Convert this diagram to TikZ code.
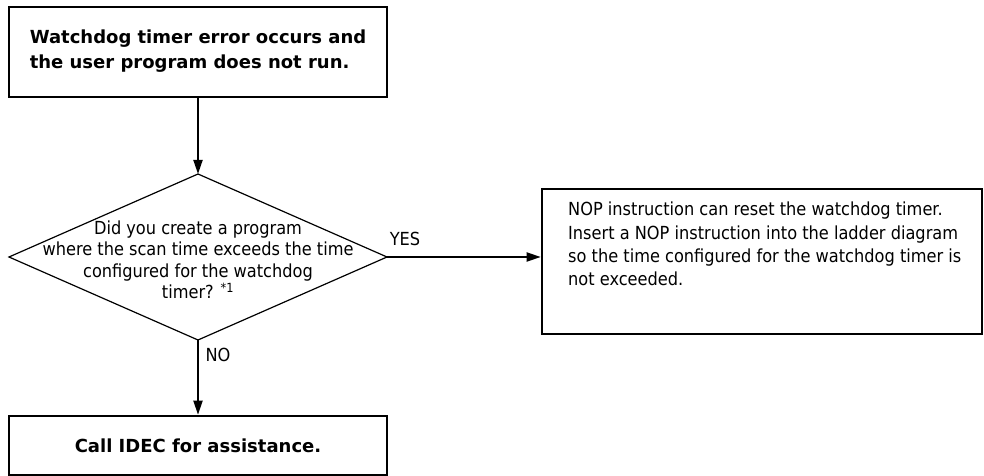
\documentclass[tikz,border=0pt]{standalone}
\usepackage{fontspec}
\setmainfont{DejaVu Sans Condensed}
\newfontfamily\wideb{DejaVu Sans}
\usetikzlibrary{arrows.meta}
\begin{document}
\begin{tikzpicture}[x=1bp,y=-1bp,
  boxst/.style={draw, line width=2.6bp, inner sep=0pt},
  conn/.style={line width=1.9bp, -{Triangle[length=14bp,width=9bp]}},
  body/.style={font=\fontsize{18bp}{22bp}\selectfont},
  bodyb/.style={font=\fontsize{18bp}{25bp}\selectfont\wideb\bfseries}]
\useasboundingbox (0,0) rectangle (984,476);
% top box
\node[boxst, minimum width=378bp, minimum height=90bp] (top) at (198,52) {};
\node[bodyb, align=left, inner sep=0pt] (toptext) at (198,51) {Watchdog timer error occurs and\\the user program does not run.};
% diamond
\coordinate (dn) at (198,174);
\coordinate (de) at (387,257);
\coordinate (ds) at (198,340);
\coordinate (dw) at (9,257);
\draw[line width=1.2bp] (dn) -- (de) -- (ds) -- (dw) -- cycle;
\node[align=center, inner sep=0pt, font=\fontsize{18bp}{21.5bp}\selectfont] (dtext) at (198,260) {Did you create a program\\where the scan time exceeds the time\\configured for the watchdog\\timer? \textsuperscript{*1}};
% right box
\node[boxst, minimum width=440bp, minimum height=145bp] (right) at (762,261.5) {};
\node[align=left, inner sep=0pt, anchor=north west, font=\fontsize{18bp}{23.2bp}\selectfont] (rtext) at (568,202) {NOP instruction can reset the watchdog timer.\\Insert a NOP instruction into the ladder diagram\\so the time configured for the watchdog timer is\\not exceeded.};
% bottom box
\node[boxst, minimum width=378bp, minimum height=59bp, bodyb] (bot) at (198,445.5) {Call IDEC for assistance.};
% connectors
\draw[conn] (top.south) -- (dn);
\draw[conn] (de) -- (de -| right.west);
\draw[conn] (ds) -- (bot.north);
% labels
\node[body, inner sep=0pt] (yes) at (405,239) {YES};
\node[body, inner sep=0pt] (no) at (218,355) {NO};
\end{tikzpicture}
\end{document}
